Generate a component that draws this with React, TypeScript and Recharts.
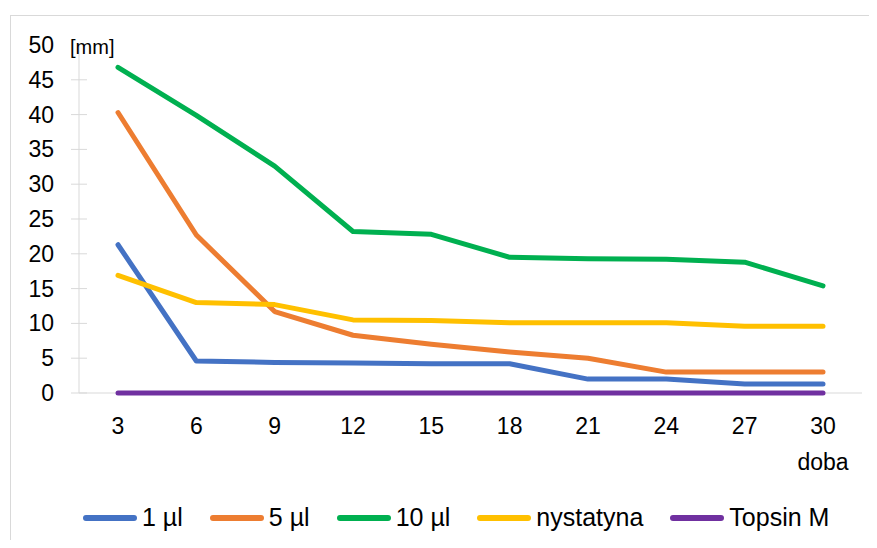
import { LineChart, Line, XAxis, YAxis } from 'recharts';

// days of measurement
const days = [3, 6, 9, 12, 15, 18, 21, 24, 27, 30];

const ul1 = [21.3, 4.6, 4.4, 4.3, 4.2, 4.2, 2.0, 2.0, 1.3, 1.3];
const ul5 = [40.3, 22.7, 11.7, 8.3, 7.0, 5.9, 5.0, 3.0, 3.0, 3.0];
const ul10 = [46.8, 39.9, 32.6, 23.2, 22.8, 19.5, 19.3, 19.2, 18.8, 15.4];
const nystatyna = [16.9, 13.0, 12.7, 10.5, 10.4, 10.1, 10.1, 10.1, 9.6, 9.6];
const topsin = [0, 0, 0, 0, 0, 0, 0, 0, 0, 0];

const yTicks = [0, 5, 10, 15, 20, 25, 30, 35, 40, 45, 50];

const series = [
    { key: 'ul1', name: '1 µl', color: '#4472C4', values: ul1 },
    { key: 'ul5', name: '5 µl', color: '#ED7D31', values: ul5 },
    { key: 'ul10', name: '10 µl', color: '#00B050', values: ul10 },
    { key: 'nys', name: 'nystatyna', color: '#FFC000', values: nystatyna },
    { key: 'top', name: 'Topsin M', color: '#7030A0', values: topsin },
];

const chartData = days.map((d, i) => {
    const row: any = { day: d };
    series.forEach((s) => { row[s.key] = s.values[i]; });
    return row;
});

const FONT = "'Liberation Sans', Arial, sans-serif";

function YTick(props: any) {
    const { x, y, payload } = props;
    const axisX = x + 25;
    return (
        <g>
            {payload.value !== 50 && (
                <line x1={axisX - 8} x2={axisX + 8} y1={y} y2={y} stroke="#d9d9d9" strokeWidth={1} />
            )}
            <text x={x} y={y} dy={8} textAnchor="end" fill="#000" fontSize={23} fontFamily={FONT}>
                {payload.value}
            </text>
        </g>
    );
}

export default function App() {
    return (
        <div style={{ position: 'relative', width: 877, height: 548, margin: -8, overflow: 'hidden', background: '#fff' }}>
            <div style={{ position: 'absolute', left: 10, top: 15, width: 900, height: 560, border: '1px solid #d9d9d9' }} />
            <div style={{ position: 'absolute', left: 0, top: 0 }}>
                <LineChart width={877} height={548} data={chartData} margin={{ top: 45, right: 15, left: 10, bottom: 105 }}>
                    <XAxis
                        dataKey="day"
                        stroke="#d9d9d9"
                        tickLine={false}
                        tickSize={0}
                        tickMargin={25}
                        height={50}
                        padding={{ left: 39, right: 39 }}
                        tick={{ fill: '#000', fontSize: 23, fontFamily: FONT }}
                        label={(p: any) => {
                            const vb = p.viewBox;
                            return (
                                <text x={vb.x + vb.width - 39} y={470} textAnchor="middle" fill="#000" fontSize={23} fontFamily={FONT}>
                                    doba
                                </text>
                            );
                        }}
                    />
                    <YAxis
                        domain={[0, 50]}
                        ticks={yTicks}
                        width={69}
                        stroke="#d9d9d9"
                        tickLine={false}
                        tickSize={0}
                        tickMargin={25}
                        tick={<YTick />}
                        label={(p: any) => (
                            <text x={p.viewBox.x + p.viewBox.width - 9} y={54} fill="#000" fontSize={20} fontFamily={FONT}>
                                [mm]
                            </text>
                        )}
                    />
                    {series.map((s) => (
                        <Line
                            key={s.key}
                            type="linear"
                            dataKey={s.key}
                            name={s.name}
                            stroke={s.color}
                            strokeWidth={5}
                            strokeLinecap="round"
                            strokeLinejoin="round"
                            dot={false}
                            activeDot={false}
                            isAnimationActive={false}
                            {...({ zIndex: 700 } as any)}
                        />
                    ))}
                </LineChart>
            </div>
            <div style={{ position: 'absolute', top: 503, left: 83, display: 'flex', alignItems: 'center', fontFamily: FONT, fontSize: 25, color: '#000' }}>
                {series.map((s) => (
                    <div key={s.key} style={{ display: 'flex', alignItems: 'center', marginRight: 27 }}>
                        <span style={{ display: 'inline-block', width: 54, height: 6, borderRadius: 3, background: s.color, marginRight: 5 }} />
                        <span>{s.name}</span>
                    </div>
                ))}
            </div>
        </div>
    );
}
